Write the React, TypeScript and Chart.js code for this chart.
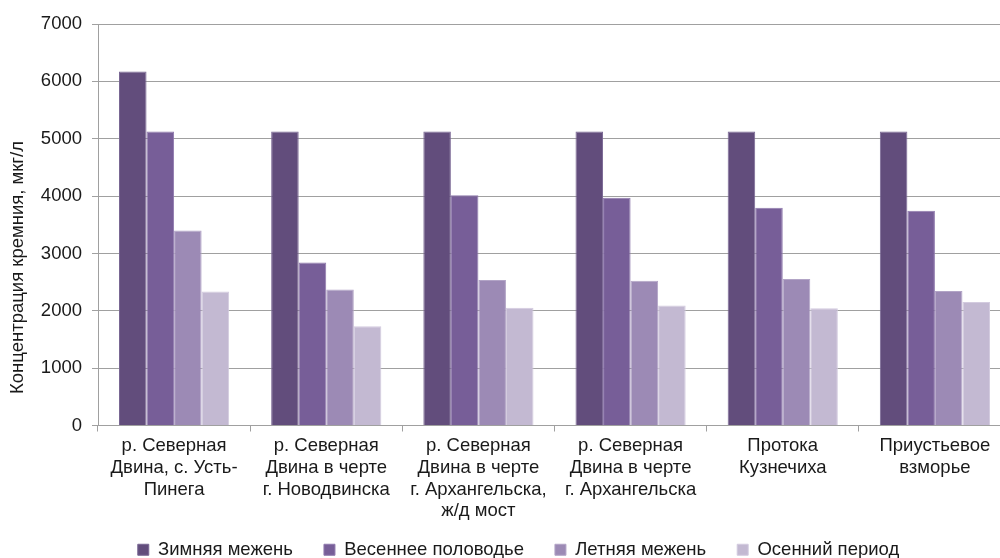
import React, { useEffect, useRef } from "react";
import { Chart, registerables } from "chart.js";

Chart.register(...registerables);

const categories: string[][] = [
  ["р. Северная", "Двина, с. Усть-", "Пинега"],
  ["р. Северная", "Двина в черте", "г. Новодвинска"],
  ["р. Северная", "Двина в черте", "г. Архангельска,", "ж/д мост"],
  ["р. Северная", "Двина в черте", "г. Архангельска"],
  ["Протока", "Кузнечиха"],
  ["Приустьевое", "взморье"],
];

const seriesNames = ["Зимняя межень", "Весеннее половодье", "Летняя межень", "Осенний период"];
const winter = [6170, 5125, 5125, 5125, 5125, 5125];
const spring = [5125, 2840, 4015, 3970, 3795, 3745];
const summer = [3400, 2370, 2535, 2525, 2555, 2345];
const autumn = [2335, 1730, 2055, 2090, 2045, 2155];
const seriesColors = ["#624D7C", "#775E98", "#9C8AB5", "#C3B9D2"];
const seriesBorders = ["#7A6894", "#8F79AD", "#B2A4C6", "#D3CBDF"];

const yTicks = [0, 1000, 2000, 3000, 4000, 5000, 6000, 7000];
const yTitle = "Концентрация кремния, мкг/л";

const FONT = "'Liberation Sans', Arial, sans-serif";
const FS = 18.5;

export default function App() {
  const ref = useRef<HTMLCanvasElement | null>(null);

  useEffect(() => {
    if (!ref.current) return;
    const values = [winter, spring, summer, autumn];
    const yTitlePlugin = {
      id: "yTitlePlugin",
      afterDraw(chart: any) {
        const ctx = chart.ctx;
        const area = chart.chartArea;
        ctx.save();
        ctx.translate(18, area.bottom - 158);
        ctx.rotate(-Math.PI / 2);
        ctx.font = `${FS}px ${FONT}`;
        ctx.fillStyle = "#1a1a1a";
        ctx.textAlign = "center";
        ctx.textBaseline = "middle";
        ctx.fillText(yTitle, 0, 0);
        ctx.restore();
      },
    };
    const chart = new Chart(ref.current, {
      type: "bar",
      data: {
        labels: categories,
        datasets: seriesNames.map((name, i) => ({
          label: name,
          data: values[i],
          backgroundColor: seriesColors[i],
          borderColor: seriesBorders[i],
          borderWidth: 1,
          categoryPercentage: 0.724,
          barPercentage: 1,
        })),
      },
      options: {
        animation: false,
        responsive: false,
        maintainAspectRatio: false,
        devicePixelRatio: 1,
        layout: { padding: { top: 24, left: 26, right: 0, bottom: 0 } },
        plugins: {
          legend: {
            position: "bottom",
            labels: {
              boxWidth: 11,
              boxHeight: 11,
              padding: 31,
              color: "#1a1a1a",
              font: { family: FONT, size: FS },
            },
          },
          tooltip: { enabled: false },
        },
        scales: {
          x: {
            grid: {
              display: true,
              drawOnChartArea: false,
              drawTicks: true,
              tickLength: 6,
              offset: true,
              color: "#A0A0A0",
            },
            border: { display: true, color: "#A0A0A0", width: 1 },
            ticks: {
              color: "#1a1a1a",
              font: { family: FONT, size: FS, lineHeight: 1.17 },
              padding: 4,
              maxRotation: 0,
              autoSkip: false,
            },
            afterFit: (scale: any) => {
              scale.height = 84;
              scale._computeLabelArea = () => undefined;
            },
          },
          y: {
            min: 0,
            max: 7000,
            afterBuildTicks: (scale: any) => {
              scale.ticks = yTicks.map((v) => ({ value: v }));
            },
            grid: {
              color: "#A0A0A0",
              lineWidth: 1,
              drawTicks: true,
              tickLength: 6,
            },
            border: { display: true, color: "#A0A0A0", width: 1 },
            ticks: {
              color: "#1a1a1a",
              font: { family: FONT, size: FS },
              padding: 10,
              callback: (v: any) => String(v),
            },
            afterFit: (scale: any) => {
              scale.width = 72;
            },
          },
        },
      },
      plugins: [yTitlePlugin],
    });
    return () => chart.destroy();
  }, []);

  return (
    <div
      style={{
        position: "fixed",
        left: 0,
        top: 0,
        width: 1000,
        height: 558,
        overflow: "hidden",
        background: "#fff",
      }}
    >
      <canvas ref={ref} width={1011} height={569} style={{ width: 1011, height: 569, display: "block" }} />
    </div>
  );
}
